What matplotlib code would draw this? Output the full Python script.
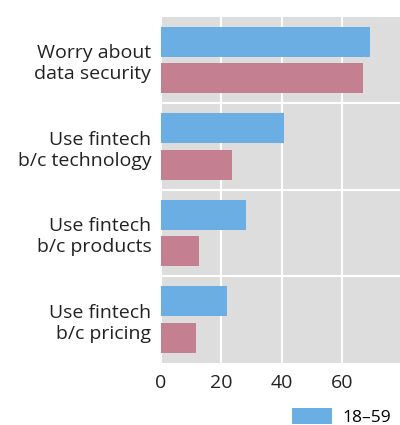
import matplotlib.pyplot as plt
import numpy as np

# Datos por motivo (porcentaje de encuestados)
motivos = ['Worry about\ndata security', 'Use fintech\nb/c technology',
           'Use fintech\nb/c products', 'Use fintech\nb/c pricing']
edad_18_59 = [69.2, 40.7, 28.0, 22.0]
edad_60_mas = [66.9, 23.4, 12.6, 11.5]
grupos = ['18–59', '60+']
ticks_x = [0, 20, 40, 60]

plt.rcParams['font.family'] = ['Open Sans', 'DejaVu Sans']

fig = plt.figure(figsize=(4, 4.25), dpi=100)
ax = fig.add_axes([0.4025, 0.146, 0.6, 0.814])

y = np.arange(len(motivos))[::-1]
alto = 0.347
b1 = ax.barh(y + 0.211, edad_18_59, height=alto, color='#6aaee4', label=grupos[0], zorder=3)
b2 = ax.barh(y - 0.211, edad_60_mas, height=alto, color='#c48090', label=grupos[1], zorder=3)

ax.set_facecolor('#dddddd')
ax.set_xlim(0, 79.5)
ax.set_ylim(-0.5, 3.5)
ax.set_xticks(ticks_x)
ax.set_xticklabels([str(t) for t in ticks_x], fontsize=14, color='#222222')
ax.set_yticks(y)
ax.set_yticklabels(motivos, fontsize=14, color='#222222', linespacing=1.2)
ax.set_yticks([0.5, 1.5, 2.5], minor=True)
ax.tick_params(axis='both', which='both', length=0)
ax.tick_params(axis='y', pad=7)
ax.tick_params(axis='x', pad=8)
ax.grid(axis='x', color='white', linewidth=1.5, zorder=1)
ax.grid(axis='y', which='minor', color='white', linewidth=1.5, zorder=1)
for s in ax.spines.values():
    s.set_visible(False)

# Leyenda: solo cabe la primera entrada dentro del lienzo
fig.legend(handles=[b1], labels=[grupos[0]], loc='upper left',
           bbox_to_anchor=(0.73, 0.04), frameon=False,
           fontsize=12.5, handlelength=2.3, handleheight=1.0,
           borderaxespad=0, borderpad=0, handletextpad=0.6)

fig.savefig('out.png', dpi=100)
